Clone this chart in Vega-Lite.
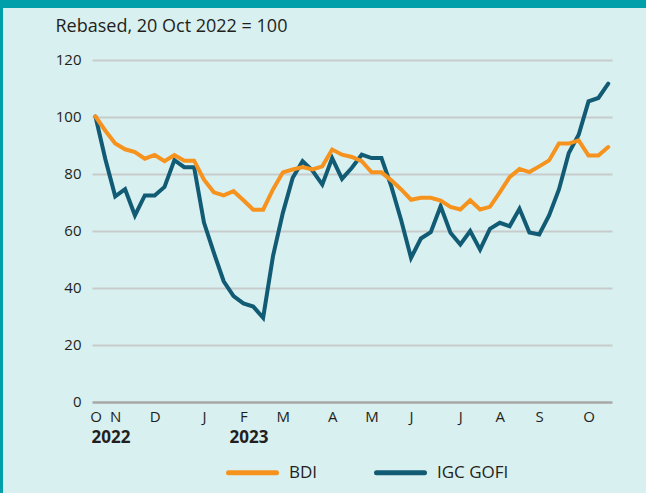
{
  "$schema": "https://vega.github.io/schema/vega-lite/v6.json",
  "width": 643,
  "height": 485,
  "autosize": {"type": "none"},
  "padding": {"left": 3, "top": 8, "right": 0, "bottom": 0},
  "background": "#009fa9",
  "config": {
    "font": "Open Sans",
    "view": {"stroke": null, "fill": "#d9f0f0"},
    "axis": {"labelColor": "#231f20", "titleColor": "#231f20"}
  },
  "data": {
    "values": [
      {"date": "2022-10-21T00:00", "BDI": 100, "IGC GOFI": 100},
      {"date": "2022-10-28T00:00", "BDI": 95, "IGC GOFI": 85},
      {"date": "2022-11-04T00:00", "BDI": 90.5, "IGC GOFI": 72},
      {"date": "2022-11-11T00:00", "BDI": 88.5, "IGC GOFI": 74.5},
      {"date": "2022-11-18T00:00", "BDI": 87.5, "IGC GOFI": 65.3},
      {"date": "2022-11-25T00:00", "BDI": 85.2, "IGC GOFI": 72.3},
      {"date": "2022-12-02T00:00", "BDI": 86.5, "IGC GOFI": 72.3},
      {"date": "2022-12-09T00:00", "BDI": 84.3, "IGC GOFI": 75.3},
      {"date": "2022-12-16T00:00", "BDI": 86.5, "IGC GOFI": 84.7},
      {"date": "2022-12-23T00:00", "BDI": 84.5, "IGC GOFI": 82.2},
      {"date": "2022-12-30T00:00", "BDI": 84.5, "IGC GOFI": 82.2},
      {"date": "2023-01-06T00:00", "BDI": 77.8, "IGC GOFI": 62.8},
      {"date": "2023-01-13T00:00", "BDI": 73.4, "IGC GOFI": 52.2},
      {"date": "2023-01-20T00:00", "BDI": 72.3, "IGC GOFI": 42.2},
      {"date": "2023-01-27T00:00", "BDI": 73.8, "IGC GOFI": 37},
      {"date": "2023-02-03T00:00", "BDI": 70.6, "IGC GOFI": 34.4},
      {"date": "2023-02-10T00:00", "BDI": 67.3, "IGC GOFI": 33.3},
      {"date": "2023-02-17T00:00", "BDI": 67.3, "IGC GOFI": 29.4},
      {"date": "2023-02-24T00:00", "BDI": 74.4, "IGC GOFI": 51},
      {"date": "2023-03-03T00:00", "BDI": 80.4, "IGC GOFI": 66.2},
      {"date": "2023-03-10T00:00", "BDI": 81.4, "IGC GOFI": 78.5},
      {"date": "2023-03-17T00:00", "BDI": 82.3, "IGC GOFI": 84.3},
      {"date": "2023-03-24T00:00", "BDI": 81.4, "IGC GOFI": 81},
      {"date": "2023-03-31T00:00", "BDI": 82.5, "IGC GOFI": 76.1},
      {"date": "2023-04-07T00:00", "BDI": 88.4, "IGC GOFI": 85.4},
      {"date": "2023-04-14T00:00", "BDI": 86.6, "IGC GOFI": 78.1},
      {"date": "2023-04-21T00:00", "BDI": 85.8, "IGC GOFI": 82},
      {"date": "2023-04-28T00:00", "BDI": 84.3, "IGC GOFI": 86.6},
      {"date": "2023-05-05T00:00", "BDI": 80.4, "IGC GOFI": 85.4},
      {"date": "2023-05-12T00:00", "BDI": 80.4, "IGC GOFI": 85.4},
      {"date": "2023-05-19T00:00", "BDI": 77.6, "IGC GOFI": 75.5},
      {"date": "2023-05-26T00:00", "BDI": 74.4, "IGC GOFI": 63.6},
      {"date": "2023-06-02T00:00", "BDI": 70.8, "IGC GOFI": 50.4},
      {"date": "2023-06-09T00:00", "BDI": 71.5, "IGC GOFI": 57.2},
      {"date": "2023-06-16T00:00", "BDI": 71.5, "IGC GOFI": 59.4},
      {"date": "2023-06-23T00:00", "BDI": 70.5, "IGC GOFI": 68.5},
      {"date": "2023-06-30T00:00", "BDI": 68.3, "IGC GOFI": 59.2},
      {"date": "2023-07-07T00:00", "BDI": 67.4, "IGC GOFI": 55.1},
      {"date": "2023-07-14T00:00", "BDI": 70.6, "IGC GOFI": 59.8},
      {"date": "2023-07-21T00:00", "BDI": 67.4, "IGC GOFI": 53.3},
      {"date": "2023-07-28T00:00", "BDI": 68.3, "IGC GOFI": 60.6},
      {"date": "2023-08-04T00:00", "BDI": 73.4, "IGC GOFI": 62.7},
      {"date": "2023-08-11T00:00", "BDI": 78.7, "IGC GOFI": 61.5},
      {"date": "2023-08-18T00:00", "BDI": 81.6, "IGC GOFI": 67.6},
      {"date": "2023-08-25T00:00", "BDI": 80.5, "IGC GOFI": 59.3},
      {"date": "2023-09-01T00:00", "BDI": 82.5, "IGC GOFI": 58.6},
      {"date": "2023-09-08T00:00", "BDI": 84.6, "IGC GOFI": 65.3},
      {"date": "2023-09-15T00:00", "BDI": 90.5, "IGC GOFI": 74.4},
      {"date": "2023-09-22T00:00", "BDI": 90.5, "IGC GOFI": 87.2},
      {"date": "2023-09-29T00:00", "BDI": 91.6, "IGC GOFI": 93.6},
      {"date": "2023-10-06T00:00", "BDI": 86.3, "IGC GOFI": 105.3},
      {"date": "2023-10-13T00:00", "BDI": 86.3, "IGC GOFI": 106.5},
      {"date": "2023-10-20T00:00", "BDI": 89.3, "IGC GOFI": 111.5}
    ]
  },
  "transform": [{"fold": ["BDI", "IGC GOFI"], "as": ["series", "value"]}],
  "encoding": {
    "y": {
      "field": "value",
      "type": "quantitative",
      "scale": {"domain": [-32.1, 138.07], "nice": false, "zero": false},
      "axis": {
        "values": [0, 20, 40, 60, 80, 100, 120],
        "offset": -89,
        "domain": false,
        "grid": false,
        "ticks": true,
        "tickSize": -520,
        "tickColor": {"condition": {"test": "datum.value === 0", "value": "#a7a9a9"}, "value": "#c8cbcb"},
        "tickWidth": {"condition": {"test": "datum.value === 0", "value": 2.5}, "value": 2},
        "labelPadding": 531,
        "labelFontSize": 15,
        "labelBaseline": "middle",
        "title": "Rebased, 20 Oct 2022 = 100",
        "titleAngle": 0,
        "titleAlign": "left",
        "titleBaseline": "alphabetic",
        "titleX": -37,
        "titleY": 23,
        "titleFontSize": 18,
        "titleFontWeight": "normal",
        "zindex": 0
      }
    },
    "color": {
      "field": "series",
      "type": "nominal",
      "scale": {"domain": ["BDI", "IGC GOFI"], "range": ["#f6921e", "#125b75"]},
      "legend": {
        "title": null,
        "orient": "none",
        "legendX": 223,
        "legendY": 438,
        "direction": "horizontal",
        "symbolType": "stroke",
        "symbolSize": 2304,
        "symbolStrokeWidth": 5,
        "labelFontSize": 17,
        "labelOffset": 10,
        "labelColor": "#231f20",
        "columnPadding": 48,
        "padding": 0,
        "encode": {"symbols": {"update": {"strokeCap": {"value": "round"}}}}
      }
    }
  },
  "layer": [
    {
      "transform": [{"filter": "datum.series === 'IGC GOFI'"}],
      "mark": {"type": "line", "strokeWidth": 4, "strokeCap": "round"},
      "encoding": {
        "x": {
          "field": "date",
          "type": "temporal",
          "scale": {"domain": [{"year": 2022, "month": 8, "date": 16, "hours": 8}, {"year": 2023, "month": 11, "date": 15, "hours": 19, "minutes": 12}], "nice": false},
          "axis": {
            "orient": "bottom",
            "values": [
              {"year": 2022, "month": 10, "date": 21},
              {"year": 2022, "month": 11, "date": 4},
              {"year": 2022, "month": 12, "date": 2},
              {"year": 2023, "month": 1, "date": 6},
              {"year": 2023, "month": 2, "date": 3},
              {"year": 2023, "month": 3, "date": 3},
              {"year": 2023, "month": 4, "date": 7},
              {"year": 2023, "month": 5, "date": 5},
              {"year": 2023, "month": 6, "date": 2},
              {"year": 2023, "month": 7, "date": 7},
              {"year": 2023, "month": 8, "date": 4},
              {"year": 2023, "month": 9, "date": 1},
              {"year": 2023, "month": 10, "date": 6}
            ],
            "labelExpr": "substring(timeFormat(datum.value, '%b'), 0, 1)",
            "offset": -91.5,
            "domain": false,
            "ticks": false,
            "grid": false,
            "labelPadding": 8,
            "labelFontSize": 15,
            "labelFlush": false,
            "labelOverlap": false,
            "title": null
          }
        }
      }
    },
    {
      "transform": [{"filter": "datum.series === 'BDI'"}],
      "mark": {"type": "line", "strokeWidth": 4, "strokeCap": "round"},
      "encoding": {
        "x": {
          "field": "date",
          "type": "temporal",
          "scale": {"domain": [{"year": 2022, "month": 8, "date": 16, "hours": 8}, {"year": 2023, "month": 11, "date": 15, "hours": 19, "minutes": 12}], "nice": false},
          "axis": {
            "orient": "bottom",
            "values": [
              {"year": 2022, "month": 10, "date": 21},
              {"year": 2023, "month": 1, "date": 27}
            ],
            "labelExpr": "timeFormat(datum.value, '%Y')",
            "offset": -91.5,
            "domain": false,
            "ticks": false,
            "grid": false,
            "labelPadding": 28,
            "labelFontSize": 17,
            "labelFontWeight": "bold",
            "labelAlign": "left",
            "labelOffset": -4.5,
            "labelFlush": false,
            "labelOverlap": false,
            "title": null
          }
        }
      }
    }
  ],
  "resolve": {"axis": {"x": "independent"}}
}
